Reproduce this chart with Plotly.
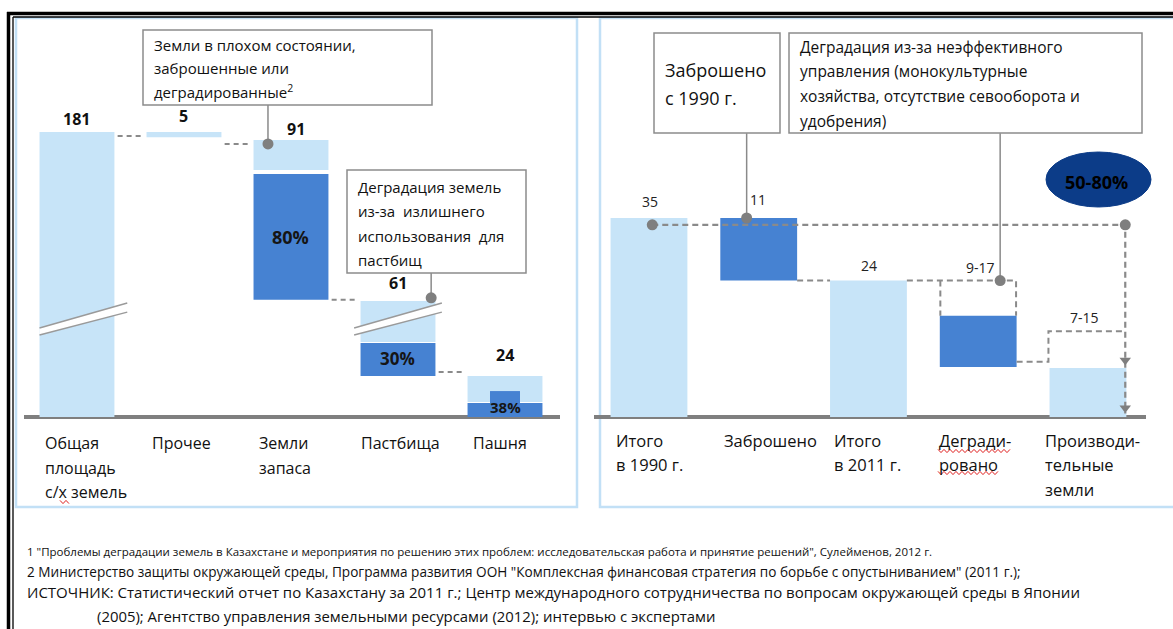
import plotly.graph_objects as go

W, H = 1173, 629

# ---------------- DATA ----------------
# Left chart: schematic, broken-scale display heights
left_categories = [["Общая", "площадь", "с/х земель"], ["Прочее"], ["Земли", "запаса"], ["Пастбища"], ["Пашня"]]
left_value_labels = ["181", "5", "91", "61", "24"]
left_light_base = [0, 98.2, 86.7, 26.3, 5.3]
left_light_top = [100, 100, 97.2, 40.7, 14.4]
left_dark_idx = [2, 3, 4]
left_dark_base = [41.1, 14.4, 0]
left_dark_top = [85.3, 26.0, 4.9]
left_dark_labels = ["80%", "30%", "38%"]
left_inner_dark = [4.9, 9.1]          # small dark piece on "Пашня"

# Right chart: million ha
right_categories = [["Итого", "в 1990 г."], ["Заброшено"], ["Итого", "в 2011 г."], ["Дегради-", "ровано"],
                    ["Производи-", "тельные", "земли"]]
right_value_labels = ["35", "11", "24", "9-17", "7-15"]
right_light_idx = [0, 2, 4]
right_light_top = [35, 24, 8.6]
right_dark_idx = [1, 3]
right_dark_base = [24, 8.8]
right_dark_top = [35, 17.8]
right_degraded_box_top = 24
right_productive_range = [9.7, 15.1]
right_total_level = 33.8
ellipse_text = "50-80%"

left_box1 = ["Земли в плохом состоянии,", "заброшенные или", "деградированные<sup>2</sup>"]
left_box2 = ["Деградация земель", "из-за  излишнего", "использования  для", "пастбищ"]
right_box1 = ["Заброшено", "с 1990 г."]
right_box2 = ["Деградация из-за неэффективного", "управления (монокультурные",
              "хозяйства, отсутствие севооборота и", "удобрения)"]
footnotes = [
    "1 \"Проблемы деградации земель в Казахстане и мероприятия по решению этих проблем: исследовательская работа и принятие решений\", Сулейменов, 2012 г.",
    "2 Министерство защиты окружающей среды, Программа развития ООН \"Комплексная финансовая стратегия по борьбе с опустыниванием\" (2011 г.);",
    "ИСТОЧНИК: Статистический отчет по Казахстану за 2011 г.; Центр международного сотрудничества по вопросам окружающей среды в Японии",
    "(2005); Агентство управления земельными ресурсами (2012); интервью с экспертами",
]

# ---------------- STYLE ----------------
FONT = "Open Sans"
LIGHT = "#c7e4f8"
DARK = "#4682d2"
GRAY = "#8a8a8a"
NAVY = "#0c3c88"
PANEL = "#c2e0f6"
BW = 0.70


def pxx(x):
    return x / W


def pxy(y):
    return 1 - y / H


fig = go.Figure()
shapes = []
ann = []

# ---- left chart ----
lx = list(range(len(left_value_labels)))
fig.add_trace(go.Bar(x=lx, base=left_light_base,
                     y=[t - b for t, b in zip(left_light_top, left_light_base)],
                     width=BW, marker=dict(color=LIGHT, line=dict(width=0)), xaxis="x", yaxis="y",
                     hoverinfo="skip"))
fig.add_trace(go.Bar(x=left_dark_idx, base=left_dark_base,
                     y=[t - b for t, b in zip(left_dark_top, left_dark_base)],
                     width=BW, marker=dict(color=DARK, line=dict(width=0)), xaxis="x", yaxis="y",
                     hoverinfo="skip"))
fig.add_trace(go.Bar(x=[4], base=[left_inner_dark[0]], y=[left_inner_dark[1] - left_inner_dark[0]],
                     width=0.28, marker=dict(color=DARK, line=dict(width=0)), xaxis="x", yaxis="y",
                     hoverinfo="skip"))

# break marks
for cx0, cx1 in [(-0.35, 0.47), (2.59, 3.41)]:
    shapes.append(dict(type="path", xref="x", yref="y",
                       path=f"M {cx0},28.8 L {cx1},36.8 L {cx1},40 L {cx0},31.2 Z",
                       fillcolor="white", line=dict(width=0), layer="above"))
    shapes.append(dict(type="line", xref="x", yref="y", x0=cx0, y0=31.2, x1=cx1, y1=40,
                       line=dict(color="#9a9a9a", width=1.5), layer="above"))
    shapes.append(dict(type="line", xref="x", yref="y", x0=cx0, y0=28.8, x1=cx1, y1=36.8,
                       line=dict(color="#9a9a9a", width=1.5), layer="above"))

# left connectors
left_conn = [(0, 98.6), (1, 95.8), (2, left_dark_base[0]), (3, 15.8)]
for i, yv in left_conn:
    fig.add_trace(go.Scatter(x=[i + BW / 2 + 0.03, i + 1 - BW / 2 - 0.03], y=[yv, yv], mode="lines",
                             line=dict(color=GRAY, width=2, dash="5px,4px"), xaxis="x", yaxis="y",
                             hoverinfo="skip"))
# callout stems + dots (left)
for xd, yd, ytop in [(1.785, 95.8, 109.5), (3.31, 41.8, 50.5)]:
    fig.add_trace(go.Scatter(x=[xd, xd], y=[yd, ytop], mode="lines", line=dict(color=GRAY, width=1.5),
                             xaxis="x", yaxis="y", hoverinfo="skip"))
    fig.add_trace(go.Scatter(x=[xd], y=[yd], mode="markers", marker=dict(color="#7f7f7f", size=11),
                             xaxis="x", yaxis="y", hoverinfo="skip"))

# left value labels
lshift = [13, 16, 11, 18, 21]
lxs = [0, 0, 5, 0, 0]
for i, t in enumerate(left_value_labels):
    ann.append(dict(x=i, y=left_light_top[i], xref="x", yref="y", text=t, showarrow=False,
                    yshift=lshift[i], xshift=lxs[i], xanchor="center", yanchor="middle",
                    font=dict(family=FONT, size=16, color="#111", weight="bold")))
dshift = [0, 1, 3]
dsize = [18, 17, 15]
for k, i in enumerate(left_dark_idx):
    ann.append(dict(x=i, y=(left_dark_base[k] + left_dark_top[k]) / 2, xref="x", yref="y",
                    text=left_dark_labels[k], showarrow=False, yshift=dshift[k],
                    xanchor="center", yanchor="middle",
                    font=dict(family=FONT, size=dsize[k], color="#151515", weight="bold")))
# left category labels
for i, lines in enumerate(left_categories):
    for j, line in enumerate(lines):
        ann.append(dict(x=i - BW / 2, y=pxy(443 + 24.5 * j), xref="x", yref="paper", text=line,
                        showarrow=False, xanchor="left", yanchor="middle", xshift=3 if i != 3 else -2,
                        font=dict(family=FONT, size=16, color="#111")))

# ---- right chart ----
fig.add_trace(go.Bar(x=right_light_idx, y=right_light_top, width=BW,
                     marker=dict(color=LIGHT, line=dict(width=0)), xaxis="x2", yaxis="y2", hoverinfo="skip"))
dash_line = dict(color=GRAY, width=2, dash="6px,4px")
# total level line + vertical arrow line
xe = 4.34
fig.add_trace(go.Scatter(x=[0.03, xe, xe], y=[right_total_level, right_total_level, 0.6], mode="lines",
                         line=dict(color=GRAY, width=2.2, dash="6px,4px"), xaxis="x2", yaxis="y2",
                         hoverinfo="skip"))
fig.add_trace(go.Bar(x=right_dark_idx, base=right_dark_base,
                     y=[t - b for t, b in zip(right_dark_top, right_dark_base)], width=BW,
                     marker=dict(color=DARK, line=dict(width=0)), xaxis="x2", yaxis="y2", hoverinfo="skip"))
# connectors
fig.add_trace(go.Scatter(x=[1 + BW / 2, 2 - BW / 2], y=[24, 24], mode="lines", line=dash_line,
                         xaxis="x2", yaxis="y2", hoverinfo="skip"))
fig.add_trace(go.Scatter(x=[2 + BW / 2, 3 + BW / 2 - 0.005, 3 + BW / 2 - 0.005],
                         y=[right_degraded_box_top, right_degraded_box_top, right_dark_top[1]],
                         mode="lines", line=dash_line, xaxis="x2", yaxis="y2", hoverinfo="skip"))
fig.add_trace(go.Scatter(x=[3 - BW / 2 + 0.005, 3 - BW / 2 + 0.005],
                         y=[right_degraded_box_top, right_dark_top[1]],
                         mode="lines", line=dash_line, xaxis="x2", yaxis="y2", hoverinfo="skip"))
fig.add_trace(go.Scatter(x=[3 + BW / 2, 4 - BW / 2 - 0.01, 4 - BW / 2 - 0.01, xe],
                         y=[right_productive_range[0], right_productive_range[0],
                            right_productive_range[1], right_productive_range[1]],
                         mode="lines", line=dash_line, xaxis="x2", yaxis="y2", hoverinfo="skip"))
# arrowheads
fig.add_trace(go.Scatter(x=[xe, xe], y=[10.0, 1.6], mode="markers",
                         marker=dict(symbol="triangle-down", size=10, color="#7f7f7f"),
                         xaxis="x2", yaxis="y2", hoverinfo="skip"))
# stems and dots
for xd, yd in [(0.89, 35), (3.2, 24)]:
    fig.add_trace(go.Scatter(x=[xd, xd], y=[yd, 49.9], mode="lines", line=dict(color=GRAY, width=1.5),
                             xaxis="x2", yaxis="y2", hoverinfo="skip"))
fig.add_trace(go.Scatter(x=[0.03, xe, 0.89, 3.2], y=[right_total_level, right_total_level, 35, 24],
                         mode="markers", marker=dict(color="#7f7f7f", size=11),
                         xaxis="x2", yaxis="y2", hoverinfo="skip"))
# right value labels
r_tops = [35, 35, 24, right_degraded_box_top, right_productive_range[1]]
rshift = [16, 18, 15, 13, 14]
rxs = [1, -1, 1, 2, -3]
for i, t in enumerate(right_value_labels):
    ann.append(dict(x=i, y=r_tops[i], xref="x2", yref="y2", text=t, showarrow=False, yshift=rshift[i],
                    xshift=rxs[i], xanchor="center", yanchor="middle",
                    font=dict(family=FONT, size=14, color="#222")))
r_xshift = [3, 2, 2, -3, -7]
for i, lines in enumerate(right_categories):
    for j, line in enumerate(lines):
        ann.append(dict(x=i - BW / 2, y=pxy(440 + 24.5 * j), xref="x2", yref="paper", text=line,
                        showarrow=False, xanchor="left", yanchor="middle", xshift=r_xshift[i],
                        font=dict(family=FONT, size=16.5, color="#111")))

# ---- frames and panels ----
shapes.append(dict(type="rect", xref="paper", yref="paper", x0=pxx(16), x1=pxx(577), y0=pxy(507), y1=pxy(18),
                   line=dict(color=PANEL, width=2.5), layer="below"))
shapes.append(dict(type="rect", xref="paper", yref="paper", x0=pxx(600), x1=pxx(1190), y0=pxy(507),
                   y1=pxy(18), line=dict(color=PANEL, width=2.5), layer="below"))
shapes.append(dict(type="line", xref="paper", yref="paper", x0=pxx(7), x1=1.0, y0=pxy(13.5), y1=pxy(13.5),
                   line=dict(color="black", width=3.5)))
shapes.append(dict(type="line", xref="paper", yref="paper", x0=pxx(13), x1=1.0, y0=pxy(17), y1=pxy(17),
                   line=dict(color="black", width=1.3)))
shapes.append(dict(type="line", xref="paper", yref="paper", x0=pxx(8.5), x1=pxx(8.5), y0=pxy(12), y1=0,
                   line=dict(color="black", width=3.5)))
shapes.append(dict(type="line", xref="paper", yref="paper", x0=pxx(13), x1=pxx(13), y0=pxy(17), y1=0,
                   line=dict(color="black", width=1.3)))

# callout boxes
boxes = [
    (143, 432, 30, 105, left_box1, 152, 45, 23.5, 15),
    (347, 526, 170, 273, left_box2, 356, 187, 24.3, 15),
    (654, 780, 33, 133, right_box1, 663, 70, 28, 18),
    (789, 1142, 33, 133, right_box2, 798, 47, 24.5, 15.5),
]
for x0, x1, y0, y1, lines, tx, ty, dy, fs in boxes:
    shapes.append(dict(type="rect", xref="paper", yref="paper", x0=pxx(x0), x1=pxx(x1), y0=pxy(y1),
                       y1=pxy(y0), line=dict(color="#8c8c8c", width=1.5), fillcolor="white", layer="above"))
    for j, line in enumerate(lines):
        ann.append(dict(x=pxx(tx), y=pxy(ty + dy * j), xref="paper", yref="paper", text=line,
                        showarrow=False, xanchor="left", yanchor="middle",
                        font=dict(family=FONT, size=fs, color="#111")))

# ellipse
shapes.append(dict(type="circle", xref="paper", yref="paper", x0=pxx(1046), x1=pxx(1151), y0=pxy(207),
                   y1=pxy(152), fillcolor=NAVY, line=dict(color=NAVY, width=1), layer="above"))
ann.append(dict(x=pxx(1096), y=pxy(182), xref="paper", yref="paper", text=ellipse_text, showarrow=False,
                xanchor="center", yanchor="middle",
                font=dict(family=FONT, size=18, color="#000000", weight="bold")))


# spell-check squiggles
def squiggle(x0, x1, y, amp=1.6, step=3.0):
    pts = []
    x = x0
    k = 0
    while x <= x1:
        pts.append((x, y + (amp if k % 2 else -amp)))
        x += step
        k += 1
    return "M " + " L ".join(f"{pxx(a):.5f},{pxy(b):.5f}" for a, b in pts)


for x0, x1, y in [(60, 69, 502), (938, 1011, 451), (938, 1000, 473)]:
    shapes.append(dict(type="path", xref="paper", yref="paper", path=squiggle(x0, x1, y),
                       line=dict(color="#e02020", width=1)))

# footnotes
fn_pos = [(25, 551, 11.5), (25, 571, 13.6), (25, 592, 15.0), (95, 616, 14.9)]
for (fx, fy, fs), t in zip(fn_pos, footnotes):
    ann.append(dict(x=pxx(fx), y=pxy(fy), xref="paper", yref="paper", text=t, showarrow=False,
                    xanchor="left", yanchor="middle", font=dict(family=FONT, size=fs, color="#111")))

# axes
fig.update_layout(
    width=W, height=H, margin=dict(l=0, r=0, t=0, b=0),
    paper_bgcolor="white", plot_bgcolor="rgba(0,0,0,0)",
    barmode="overlay", showlegend=False,
    xaxis=dict(domain=[24 / W, 560 / W], range=[-0.495, 4.514], visible=False, fixedrange=True),
    yaxis=dict(domain=[0, 1], range=[-(H - 417) / 2.85, 417 / 2.85], showgrid=False, showticklabels=False,
               zeroline=True, zerolinecolor="#7f7f7f", zerolinewidth=4, fixedrange=True),
    xaxis2=dict(domain=[594 / W, 1146 / W], range=[-0.501, 4.529], visible=False, fixedrange=True),
    yaxis2=dict(domain=[0, 1], range=[-(H - 417) / 5.686, 417 / 5.686], anchor="x2", showgrid=False,
                showticklabels=False, zeroline=True, zerolinecolor="#7f7f7f", zerolinewidth=4,
                fixedrange=True),
    shapes=shapes, annotations=ann,
)

fig.write_html("out.html", config={"displayModeBar": False},
               post_script="document.body.style.margin='0';document.body.style.overflow='hidden';")
